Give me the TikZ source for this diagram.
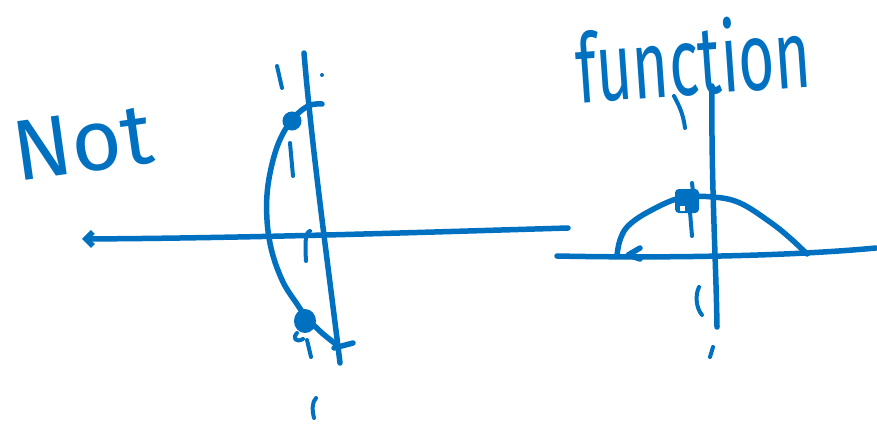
\documentclass[tikz,border=0pt]{standalone}
\usepackage{fontspec}
\usepackage{graphicx}
\newfontfamily\handfont{Fira Sans}
\usetikzlibrary{arrows.meta}
\definecolor{ink}{HTML}{0070C0}
\tikzset{
  pen/.style={draw=ink, line width=5.5pt, line cap=round, line join=round},
  thinpen/.style={draw=ink, line width=4pt, line cap=round, line join=round},
  blob/.style={fill=ink, draw=ink, line width=2pt},
  handtext/.style={text=ink, inner sep=0pt, font=\handfont}
}
\begin{document}
\begin{tikzpicture}[x=1pt,y=-1pt]
\useasboundingbox (0,0) rectangle (877,425);

% ---------- texts ----------
\node[handtext, font=\handfont\fontsize{86}{86}\selectfont, rotate=8] (nottext) at (83,143) {Not};
\node[handtext, font=\handfont\fontsize{62}{62}\selectfont, rotate=4] (functext) at (693,58) {\scalebox{1}[1.55]{function}};

% ---------- left figure ----------
\coordinate (laxL) at (82,239);
\coordinate (laxR) at (568,228);
\draw[pen, -{Straight Barb[length=7pt,width=14pt]}] (laxR) .. controls (400,233) and (250,238) .. (laxL);

\coordinate (lvT) at (304,53);
\coordinate (lvB) at (340,363);
\draw[pen] (lvT) .. controls (312,150) and (330,280) .. (lvB);

% curve through the two dots
\draw[pen] plot[smooth, tension=0.6] coordinates {(322,104) (308,106) (291,121) (277,147) (268,185) (267,220) (272,252) (283,282) (297,304) (307,318) (322,333) (337,345)};
\draw[pen] (334,348) -- (353,343);

% dots
\coordinate (d1) at (292,121);
\coordinate (d2) at (305,321);
\fill[blob] (d1) circle (8.5);
\fill[blob] (d2) ellipse (10 and 11);
\draw[thinpen] (297,333) .. controls (292,338) and (296,343) .. (303,339);

% small marks
\draw[thinpen] (277,66) -- (282,88);
\draw[thinpen] (290,143) -- (293,176);
\draw[thinpen] (310,231) .. controls (305,232) and (305,245) .. (306,261);
\draw[thinpen] (307,340) -- (311,357);
\draw[thinpen] (316,398) .. controls (312,402) and (312,410) .. (314,418);
\fill[ink] (322,75) circle (2);

% ---------- right figure ----------
\coordinate (rvT) at (712,86);
\coordinate (rvB) at (717,327);
\draw[pen] (rvT) .. controls (711,180) and (716,260) .. (rvB);

\coordinate (rhL) at (557,256);
\coordinate (rhR) at (876,248);
\draw[pen] (rhL) .. controls (650,258) and (780,257) .. (rhR);
\draw[pen] (640,248) -- (628,255) -- (640,259);

% arch
\draw[pen] plot[smooth, tension=0.6] coordinates {(617,255) (620,240) (628,226) (648,212) (680,198) (713,197) (740,203) (770,222) (790,238) (807,254)};

% dot on arch
\fill[blob, rounded corners=3pt] (676,190) rectangle (698,212);
\fill[white] (680,206) rectangle (685,211);
\draw[thinpen] (690,212) -- (692,236);
\draw[thinpen] (692,183) -- (693,191);

% small marks
\draw[thinpen] (674,96) .. controls (678,104) and (683,112) .. (685,128);
\draw[thinpen] (699,287) .. controls (695,295) and (696,308) .. (702,315);
\draw[thinpen] (713,347) -- (710,357);
\end{tikzpicture}
\end{document}
